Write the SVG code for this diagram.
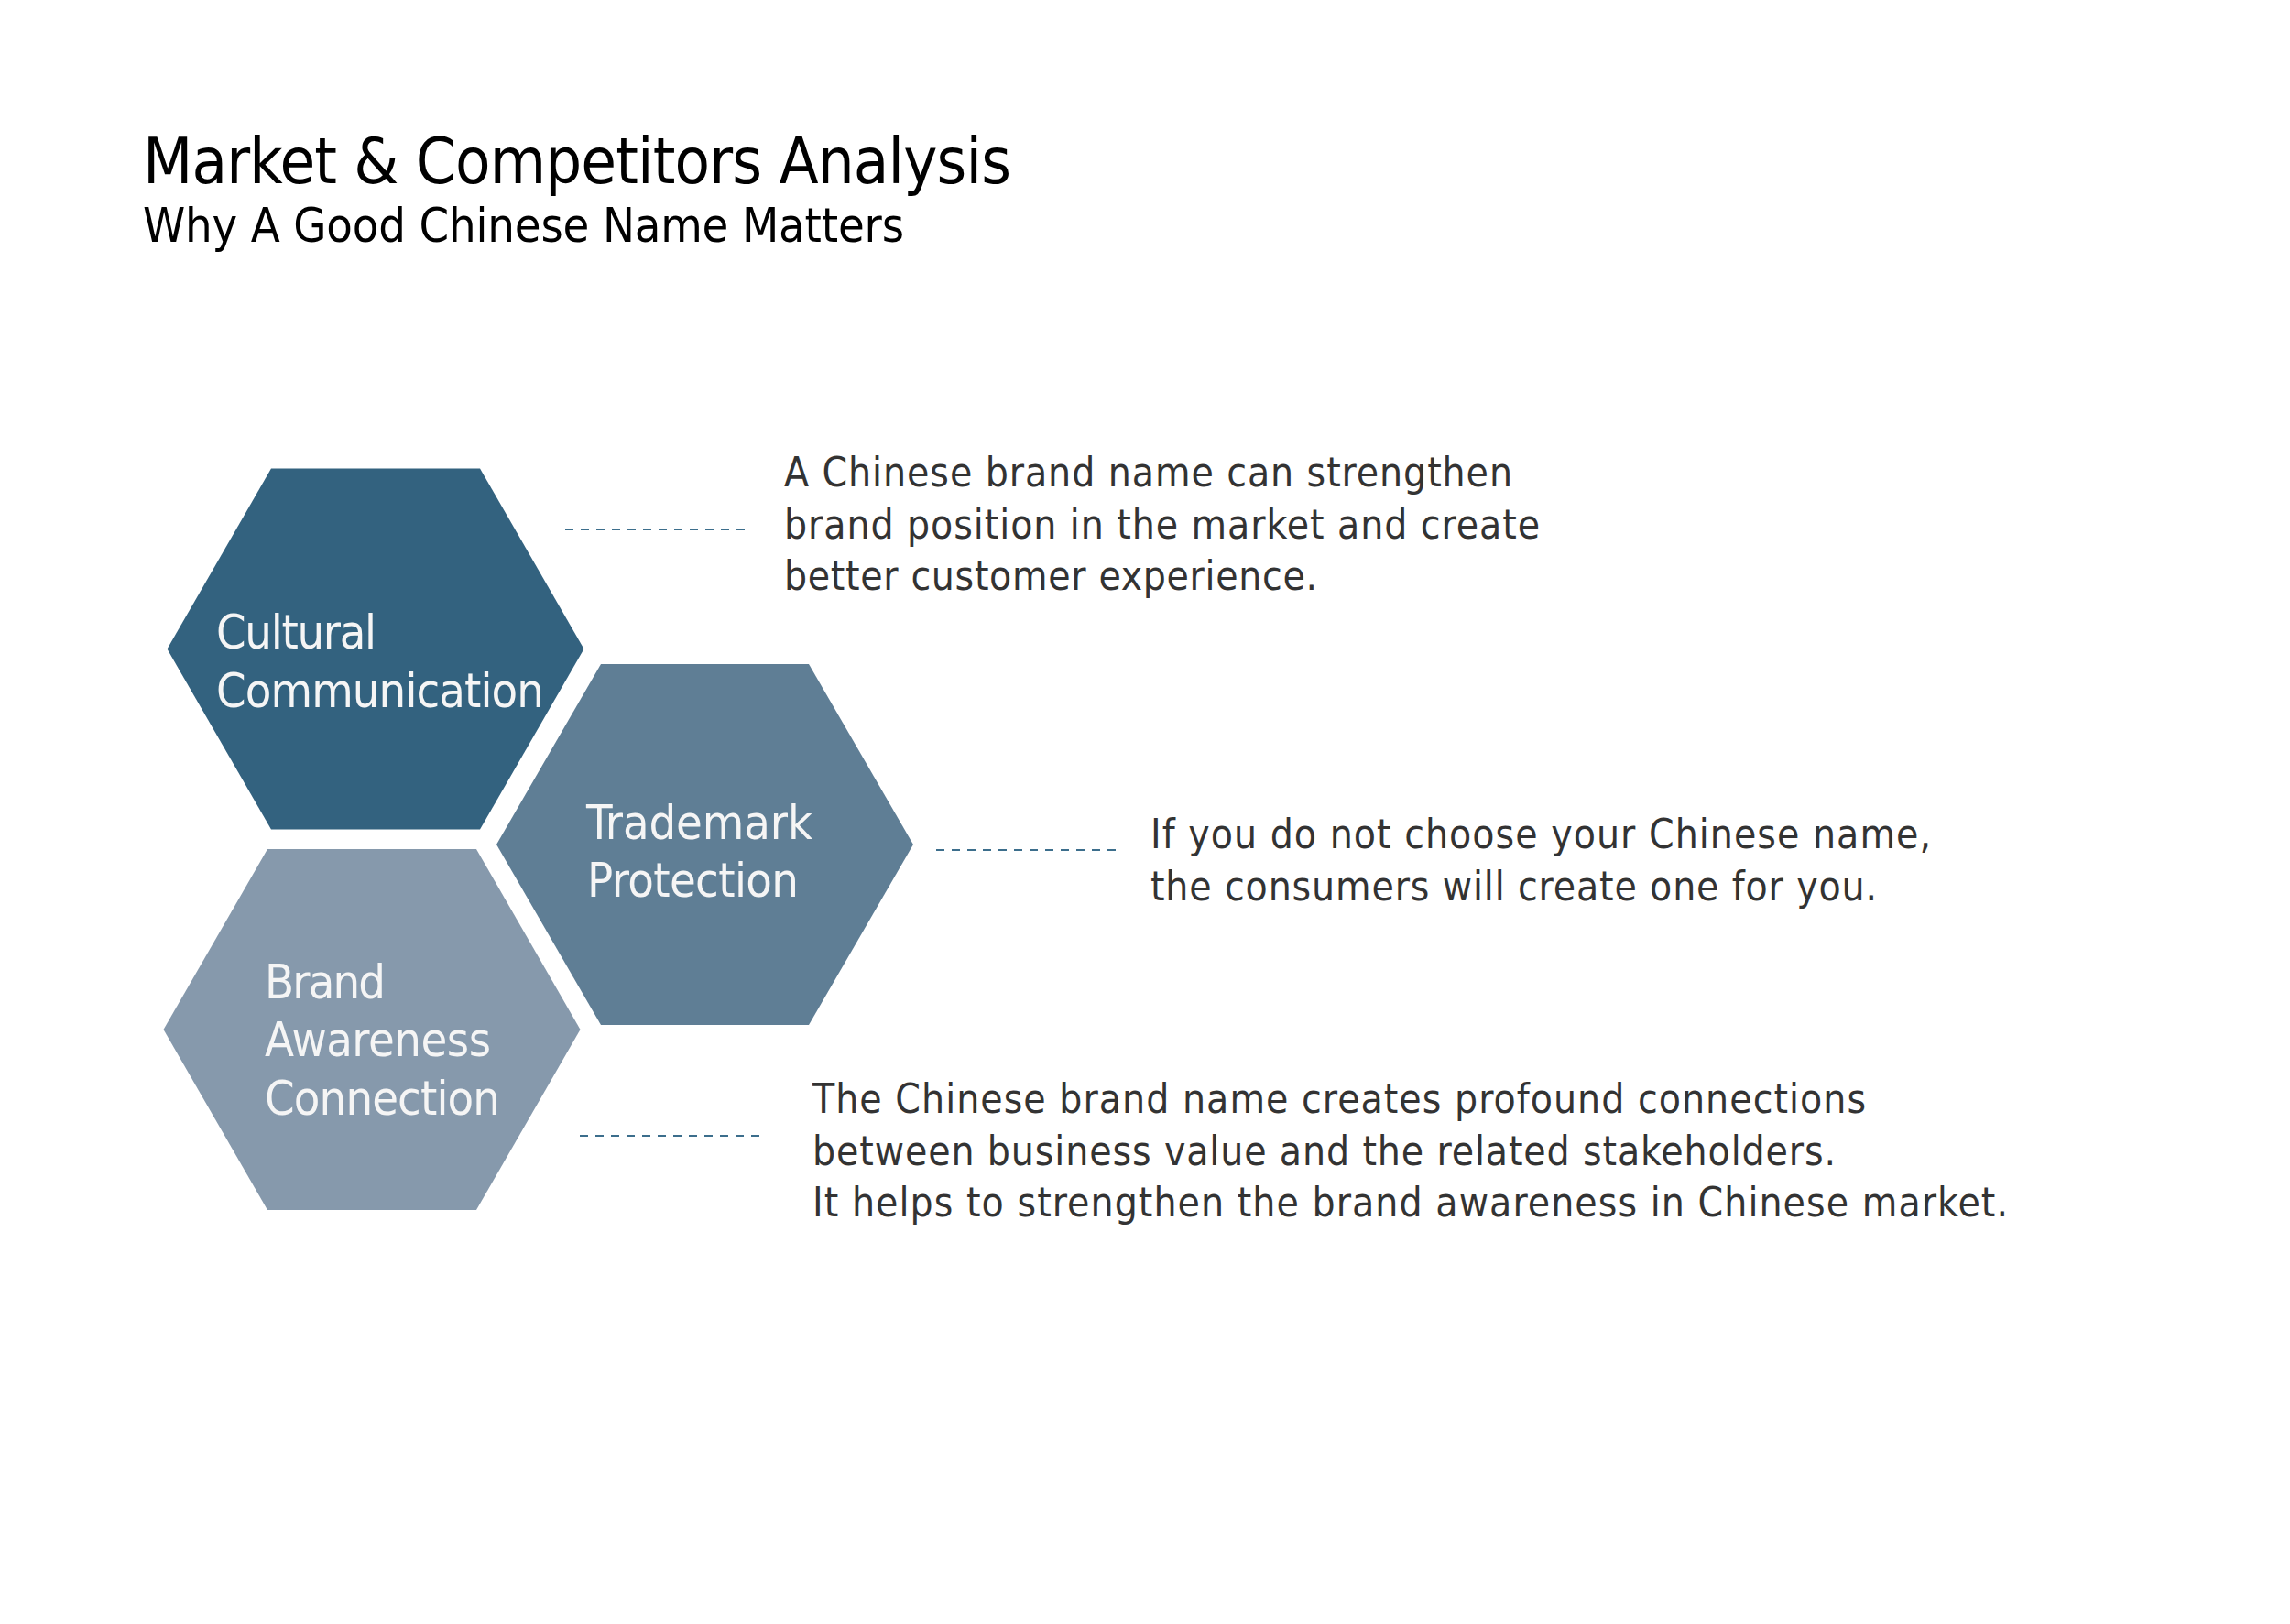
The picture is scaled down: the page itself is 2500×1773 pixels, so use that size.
<svg xmlns="http://www.w3.org/2000/svg" width="2500" height="1773" viewBox="0 0 2500 1773">
<style>
  .title { font-family: "DejaVu Sans Condensed", "DejaVu Sans", sans-serif; fill: #000000; }
  .hexlabel { font-family: "DejaVu Sans Condensed", "DejaVu Sans", sans-serif; font-size: 52px; fill: #F5F5F5; }
  .desc { font-family: "DejaVu Sans Condensed", "DejaVu Sans", sans-serif; font-size: 44px; fill: #333333; }
  .dash { stroke: #3C6E8C; stroke-width: 2; stroke-dasharray: 9 8; fill: none; }
</style>
<rect x="0" y="0" width="2500" height="1773" fill="#FFFFFF"/>

<g id="title">
  <text class="title" x="156" y="200" font-size="70" textLength="948">Market &amp; Competitors Analysis</text>
  <text class="title" x="156" y="264" font-size="52" textLength="831">Why A Good Chinese Name Matters</text>
</g>

<g id="node-cultural">
  <polygon points="182.5,708.5 296,511.5 524,511.5 637.5,708.5 524,905.5 296,905.5" fill="#33627F"/>
  <text class="hexlabel" x="236" y="708" textLength="175">Cultural</text>
  <text class="hexlabel" x="236" y="772" textLength="358">Communication</text>
</g>

<g id="node-trademark">
  <polygon points="542,922 656,725 883,725 997,922 883,1119 656,1119" fill="#5F7E95"/>
  <text class="hexlabel" x="640" y="916" textLength="247">Trademark</text>
  <text class="hexlabel" x="641" y="979" textLength="231">Protection</text>
</g>

<g id="node-brand">
  <polygon points="178.5,1124 292,927 520,927 633.5,1124 520,1321 292,1321" fill="#8699AC"/>
  <text class="hexlabel" x="289" y="1090" textLength="132">Brand</text>
  <text class="hexlabel" x="289" y="1153" textLength="247">Awareness</text>
  <text class="hexlabel" x="289" y="1217" textLength="257">Connection</text>
</g>

<g id="desc-cultural">
  <text class="desc" x="856" y="531" textLength="795">A Chinese brand name can strengthen</text>
  <text class="desc" x="856" y="587.5" textLength="825">brand position in the market and create</text>
  <text class="desc" x="856" y="644" textLength="582">better customer experience.</text>
</g>

<g id="desc-trademark">
  <text class="desc" x="1256" y="926" textLength="852">If you do not choose your Chinese name,</text>
  <text class="desc" x="1256" y="982.5" textLength="793">the consumers will create one for you.</text>
</g>

<g id="desc-brand">
  <text class="desc" x="887" y="1215" textLength="1150">The Chinese brand name creates profound connections</text>
  <text class="desc" x="887" y="1271.5" textLength="1117">between business value and the related stakeholders.</text>
  <text class="desc" x="887" y="1328" textLength="1305">It helps to strengthen the brand awareness in Chinese market.</text>
</g>

<g id="connectors">
  <line class="dash" x1="617" y1="578" x2="820" y2="578"/>
  <line class="dash" x1="1022" y1="928" x2="1225" y2="928"/>
  <line class="dash" x1="633" y1="1240" x2="837" y2="1240"/>
</g>
</svg>
